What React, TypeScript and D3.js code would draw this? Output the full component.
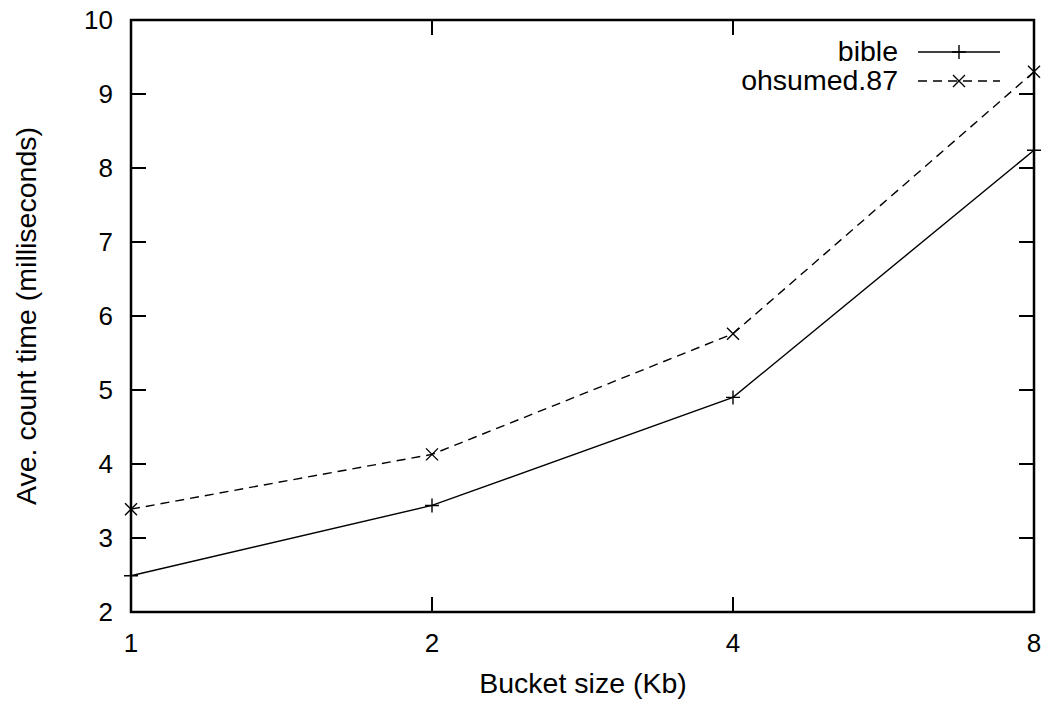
import React, { useEffect, useRef } from "react";
import * as d3 from "d3";

const bucketSizes = [1, 2, 4, 8];
const bibleTimes = [2.49, 3.44, 4.9, 8.24];
const ohsumedTimes = [3.39, 4.13, 5.76, 9.3];
const yTicks = [2, 3, 4, 5, 6, 7, 8, 9, 10];
const seriesNames = ["bible", "ohsumed.87"];

const App = () => {
    const ref = useRef<SVGSVGElement>(null);

    useEffect(() => {
        const svg = d3.select(ref.current);
        svg.selectAll("*").remove();

        const left = 131, right = 1034, top = 20, bottom = 612;
        const font = "'Liberation Sans', Arial, sans-serif";
        const tickFont = 26, titleFont = 28.5;

        const x = d3.scaleLog().base(2).domain([1, 8]).range([left, right]);
        const y = d3.scaleLinear().domain([2, 10]).range([bottom, top]);

        const g = svg.append("g");

        // ticks (inward, mirrored)
        const tl = 15;
        yTicks.forEach(function (t) {
            g.append("line").attr("x1", left).attr("x2", left + tl)
                .attr("y1", y(t)).attr("y2", y(t))
                .attr("stroke", "#000").attr("stroke-width", 2);
            g.append("line").attr("x1", right).attr("x2", right - tl)
                .attr("y1", y(t)).attr("y2", y(t))
                .attr("stroke", "#000").attr("stroke-width", 2);
            g.append("text").attr("x", left - 18).attr("y", y(t))
                .attr("dy", "0.36em").attr("text-anchor", "end")
                .attr("font-family", font).attr("font-size", tickFont)
                .text(t);
        });
        bucketSizes.forEach(function (t) {
            g.append("line").attr("x1", x(t)).attr("x2", x(t))
                .attr("y1", bottom).attr("y2", bottom - tl)
                .attr("stroke", "#000").attr("stroke-width", 2);
            g.append("line").attr("x1", x(t)).attr("x2", x(t))
                .attr("y1", top).attr("y2", top + tl)
                .attr("stroke", "#000").attr("stroke-width", 2);
            g.append("text").attr("x", x(t)).attr("y", 652)
                .attr("text-anchor", "middle")
                .attr("font-family", font).attr("font-size", tickFont)
                .text(t);
        });

        // frame
        g.append("rect").attr("x", left).attr("y", top)
            .attr("width", right - left).attr("height", bottom - top)
            .attr("fill", "none").attr("stroke", "#000").attr("stroke-width", 2.5);

        // axis titles
        g.append("text").attr("x", 583).attr("y", 693)
            .attr("text-anchor", "middle")
            .attr("font-family", font).attr("font-size", titleFont)
            .text("Bucket size (Kb)");
        g.append("text")
            .attr("transform", "translate(36," + (top + bottom) / 2 + ")rotate(-90)")
            .attr("text-anchor", "middle")
            .attr("font-family", font).attr("font-size", titleFont)
            .text("Ave. count time (milliseconds)");

        const line = d3.line<number>()
            .x(function (d, i) { return x(bucketSizes[i]); })
            .y(function (d) { return y(d); });

        const plus = function (cx: number, cy: number) {
            const s = 7;
            g.append("path")
                .attr("d", `M${cx - s},${cy}H${cx + s}M${cx},${cy - s}V${cy + s}`)
                .attr("stroke", "#000").attr("stroke-width", 1.4);
        };
        const cross = function (cx: number, cy: number) {
            const s = 6;
            g.append("path")
                .attr("d", `M${cx - s},${cy - s}L${cx + s},${cy + s}M${cx - s},${cy + s}L${cx + s},${cy - s}`)
                .attr("stroke", "#000").attr("stroke-width", 1.4);
        };

        // bible
        g.append("path").datum(bibleTimes).attr("d", line)
            .attr("fill", "none").attr("stroke", "#000").attr("stroke-width", 1.4);
        bibleTimes.forEach(function (d, i) { plus(x(bucketSizes[i]), y(d)); });

        // ohsumed
        g.append("path").datum(ohsumedTimes).attr("d", line)
            .attr("fill", "none").attr("stroke", "#000").attr("stroke-width", 1.4)
            .attr("stroke-dasharray", "9,6");
        ohsumedTimes.forEach(function (d, i) { cross(x(bucketSizes[i]), y(d)); });

        // legend
        const legendRows = [52, 81];
        seriesNames.forEach(function (name, i) {
            const ly = legendRows[i];
            g.append("text").attr("x", 898).attr("y", ly + 9)
                .attr("text-anchor", "end")
                .attr("font-family", font).attr("font-size", titleFont)
                .text(name);
            const l = g.append("line").attr("x1", 918).attr("x2", 1000)
                .attr("y1", ly).attr("y2", ly)
                .attr("stroke", "#000").attr("stroke-width", 1.4);
            if (i === 0) {
                plus(959, ly);
            } else {
                l.attr("stroke-dasharray", "9,6");
                cross(959, ly);
            }
        });
    }, []);

    return (
        <svg ref={ref} width={1049} height={706}
            style={{ position: "absolute", left: 0, top: 0, background: "#fff" }} />
    );
};

export default App;
